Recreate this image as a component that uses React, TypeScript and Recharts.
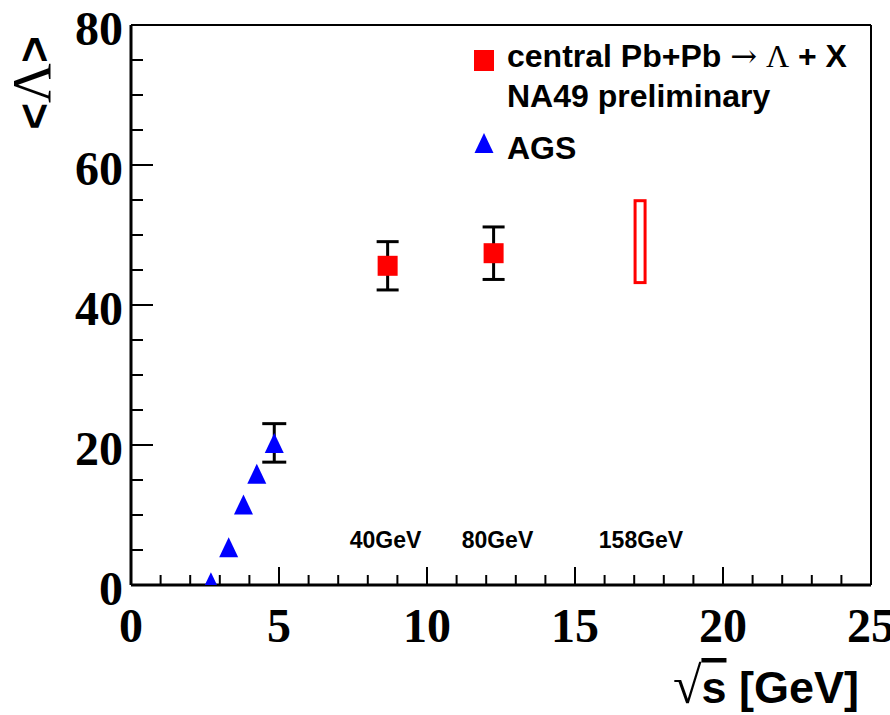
import React from 'react';
import { ComposedChart, XAxis, YAxis, Scatter, Bar, ErrorBar, ReferenceLine, Legend } from 'recharts';

// AGS points (sqrt(s) in GeV, <Lambda> yield)
const agsSqrtS = [2.7, 3.3, 3.8, 4.25, 4.84];
const agsLambda = [0.4, 5.4, 11.5, 15.9, 20.3];
const agsErr = [0, 0, 0, 0, 2.75];

// NA49 preliminary, 40 and 80 AGeV
const na49SqrtS = [8.67, 12.25];
const na49Lambda = [45.6, 47.4];
const na49Err = [3.45, 3.75];

// 158 AGeV shown as an open box (range)
const boxSqrtS = [17.2];
const boxLow = [43.2];
const boxHigh = [54.9];

const beamLabels = ['40GeV', '80GeV', '158GeV'];
const beamLabelX = [8.6, 12.38, 17.23];
const beamLabelY = [6.5, 6.5, 6.5];

const xTicks = [0, 1, 2, 3, 4, 5, 6, 7, 8, 9, 10, 11, 12, 13, 14, 15, 16, 17, 18, 19, 20, 21, 22, 23, 24, 25];
const xMajor = [0, 5, 10, 15, 20, 25];
const yTicks = [0, 5, 10, 15, 20, 25, 30, 35, 40, 45, 50, 55, 60, 65, 70, 75, 80];
const yMajor = [0, 20, 40, 60, 80];

const SANS = '"Liberation Sans", Arial, sans-serif';
const SERIF = '"Liberation Serif", "Times New Roman", serif';

const agsData = agsSqrtS.map((x, i) => ({ x, y: agsLambda[i], err: agsErr[i] }));
const na49Data = na49SqrtS.map((x, i) => ({ x, y: na49Lambda[i], err: na49Err[i] }));
const boxData = boxSqrtS.map((x, i) => ({ x, range: [boxLow[i], boxHigh[i]] }));
const labelData = beamLabels.map((label, i) => ({ x: beamLabelX[i], y: beamLabelY[i], label }));

const XTick = (props: any) => {
  const { x, y, payload } = props;
  const major = xMajor.includes(payload.value);
  return (
    <g>
      <line x1={x} x2={x} y1={y} y2={y - (major ? 18 : 10)} stroke="#000" strokeWidth={2} />
      {major && (
        <text x={x} y={y + 57} textAnchor="middle" fontFamily={SERIF} fontWeight="bold" fontSize={48} fill="#000">
          {payload.value}
        </text>
      )}
    </g>
  );
};

const YTick = (props: any) => {
  const { x, y, payload } = props;
  const major = yMajor.includes(payload.value);
  return (
    <g>
      <line x1={x} x2={x + (major ? 22 : 12)} y1={y} y2={y} stroke="#000" strokeWidth={2} />
      {major && (
        <text x={x - 8} y={y + 20} textAnchor="end" fontFamily={SERIF} fontWeight="bold" fontSize={48} fill="#000">
          {payload.value}
        </text>
      )}
    </g>
  );
};

const Square = (props: any) => (
  <rect x={props.cx - 10} y={props.cy - 10} width={20} height={20} fill="#ff0000" />
);

const Triangle = (props: any) => (
  <polygon
    points={`${props.cx},${props.cy - 10} ${props.cx - 9.5},${props.cy + 10} ${props.cx + 9.5},${props.cy + 10}`}
    fill="#0000ff"
  />
);

// open box: vertical extent from the bar (y scale), fixed pixel width
const OpenBox = (props: any) => {
  const cx = props.x + props.width / 2;
  const top = Math.min(props.y, props.y + props.height);
  const h = Math.abs(props.height);
  return <rect x={cx - 5} y={top} width={10} height={h} fill="none" stroke="#ff0000" strokeWidth={3} />;
};

const BeamLabel = (props: any) => (
  <text x={props.cx} y={props.cy} textAnchor="middle" dominantBaseline="central"
    fontFamily={SANS} fontWeight="bold" fontSize={23} fill="#000">
    {props.payload.label}
  </text>
);

const YLabel = () => (
  <text x={50} y={83} transform="rotate(-90 50 83)" textAnchor="middle" fill="#000">
    <tspan fontFamily={SANS} fontWeight="bold" fontSize={46}>&lt;</tspan>
    <tspan fontFamily={SERIF} fontSize={55}>Λ</tspan>
    <tspan fontFamily={SANS} fontWeight="bold" fontSize={46}>&gt;</tspan>
  </text>
);

const XLabel = () => (
  <text x={859} y={703} textAnchor="end" fill="#000">
    <tspan fontFamily={SERIF} fontSize={52}>√</tspan>
    <tspan fontFamily={SANS} fontWeight="bold" fontSize={45} style={{ textDecoration: 'overline' }}>s</tspan>
    <tspan fontFamily={SANS} fontWeight="bold" fontSize={45}> [GeV]</tspan>
  </text>
);

const renderLegend = () => (
  <svg width={420} height={140} style={{ display: 'block' }}>
    <rect x={14} y={20} width={20} height={21} fill="#ff0000" />
    <text x={47} y={37} fontFamily={SANS} fontWeight="bold" fontSize={32} fill="#000">
      central Pb+Pb <tspan fontFamily='"DejaVu Serif", serif' fontWeight="normal">→</tspan>{' '}
      <tspan fontFamily={SERIF} fontWeight="normal">Λ</tspan> + X
    </text>
    <text x={47} y={77} fontFamily={SANS} fontWeight="bold" fontSize={32} fill="#000">NA49 preliminary</text>
    <polygon points="24,103 14.5,123 33.5,123" fill="#0000ff" />
    <text x={47} y={129} fontFamily={SANS} fontWeight="bold" fontSize={32} fill="#000">AGS</text>
  </svg>
);

export default function App() {
  return (
    <div style={{ position: 'absolute', left: 0, top: 0, background: '#fff' }}>
      <ComposedChart
        width={890}
        height={715}
        data={boxData}
        margin={{ top: 25, right: 19, left: 11, bottom: 30 }}
      >
        <XAxis
          dataKey="x"
          type="number"
          domain={[0, 25]}
          ticks={xTicks}
          interval={0}
          allowDataOverflow
          tickSize={0}
          tickMargin={0}
          tickLine={false}
          tick={<XTick />}
          axisLine={{ stroke: '#000', strokeWidth: 3 }}
          height={100}
          label={{ content: XLabel }}
        />
        <YAxis
          type="number"
          domain={[0, 80]}
          ticks={yTicks}
          interval={0}
          allowDataOverflow
          tickSize={0}
          tickMargin={0}
          tickLine={false}
          tick={<YTick />}
          axisLine={{ stroke: '#000', strokeWidth: 3 }}
          width={120}
          label={{ content: YLabel }}
        />
        <ReferenceLine y={80} stroke="#000" strokeWidth={2} />
        <ReferenceLine x={25} stroke="#000" strokeWidth={2} />
        <Bar dataKey="range" barSize={13} shape={<OpenBox />} isAnimationActive={false} />
        <Scatter data={na49Data} dataKey="y" shape={<Square />} isAnimationActive={false}>
          <ErrorBar dataKey="err" direction="y" width={11} stroke="#000" strokeWidth={3} />
        </Scatter>
        <Scatter data={agsData} dataKey="y" shape={<Triangle />} isAnimationActive={false}>
          <ErrorBar dataKey="err" direction="y" width={12} stroke="#000" strokeWidth={3} />
        </Scatter>
        <Scatter data={labelData} dataKey="y" shape={<BeamLabel />} isAnimationActive={false} />
        <Legend
          layout="vertical"
          align="center"
          verticalAlign="middle"
          content={renderLegend}
          wrapperStyle={{ position: 'absolute', left: 460, top: 30, width: 420, height: 140 }}
        />
      </ComposedChart>
    </div>
  );
}
